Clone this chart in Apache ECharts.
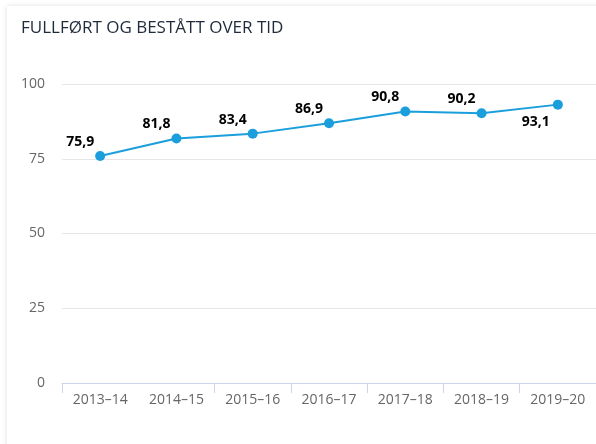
<!DOCTYPE html>
<html><head><meta charset="utf-8">
<script src="https://cdn.jsdelivr.net/npm/echarts@6/dist/echarts.min.js"></script>
<style>
html,body{margin:0;padding:0;background:#fff;width:596px;height:444px;overflow:hidden}
#card{position:absolute;left:7px;top:6px;width:620px;height:470px;background:#fff;box-shadow:0 0 5px rgba(0,0,0,0.13)}
#chart{position:absolute;left:0;top:0;width:596px;height:444px}
</style></head>
<body>
<div id="card"></div>
<div id="chart"></div>
<script>
const titleText = 'FULLFØRT OG BESTÅTT OVER TID';
const categories = ['2013–14','2014–15','2015–16','2016–17','2017–18','2018–19','2019–20'];
const values = [75.9, 81.8, 83.4, 86.9, 90.8, 90.2, 93.1];
const yTicks = [0, 25, 50, 75, 100];

const chart = echarts.init(document.getElementById('chart'), null, {renderer:'canvas'});
const data = values.map((v, i) => {
  const last = i === values.length - 1;
  return {
    value: v,
    label: last ? {position: 'bottom', offset: [-22, 0]} : {position: 'top', offset: [-20, 3]}
  };
});
chart.setOption({
  animation: false,
  backgroundColor: 'transparent',
  title: {
    text: titleText, left: 16, top: 15,
    textStyle: {fontFamily: 'Open Sans', fontSize: 17, fontWeight: 'normal', color: '#1f2a3a'}
  },
  grid: {left: 62, right: 0, top: 84, bottom: 61, containLabel: false},
  xAxis: {
    type: 'category', data: categories, boundaryGap: true,
    axisLine: {show: true, lineStyle: {color: '#ccd6eb', width: 1}},
    axisTick: {show: true, length: 10, lineStyle: {color: '#ccd6eb'}, interval: (idx) => idx !== 1},
    axisLabel: {color: '#666', fontFamily: 'Open Sans', fontSize: 14, margin: 10, interval: 0}
  },
  yAxis: {
    type: 'value', min: yTicks[0], max: yTicks[yTicks.length - 1], interval: 25,
    axisLine: {show: false}, axisTick: {show: false},
    splitLine: {lineStyle: {color: '#e6e6e6', width: 1}},
    axisLabel: {color: '#666', fontFamily: 'Open Sans', fontSize: 14, margin: 17,
      formatter: v => yTicks.includes(v) ? String(v) : ''}
  },
  series: [{
    type: 'line', data: data,
    symbol: 'circle', symbolSize: 10,
    lineStyle: {color: '#1a9fdc', width: 2},
    itemStyle: {color: '#1a9fdc'},
    label: {
      show: true, color: '#000', fontFamily: 'Open Sans', fontSize: 14, fontWeight: 'bold',
      textBorderColor: '#fff', textBorderWidth: 2,
      formatter: p => p.value.toFixed(1).replace('.', ',')
    }
  }]
});
</script>
</body></html>
